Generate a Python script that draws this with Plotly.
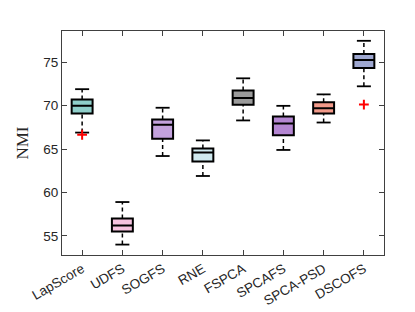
import plotly.graph_objects as go

methods = ["LapScore", "UDFS", "SOGFS", "RNE", "FSPCA", "SPCAFS", "SPCA-PSD", "DSCOFS"]
lower_whisker = [66.9, 54.0, 64.2, 61.9, 68.3, 64.9, 68.06, 72.23]
q1 = [69.1, 55.5, 66.2, 63.56, 70.1, 66.6, 69.1, 74.34]
median = [70.0, 56.2, 67.8, 64.6, 70.87, 67.95, 69.7, 75.26]
q3 = [70.7, 57.0, 68.4, 65.07, 71.75, 68.76, 70.4, 75.96]
upper_whisker = [71.9, 58.9, 69.76, 66.0, 73.15, 69.98, 71.3, 77.47]
outlier_method = ["LapScore", "DSCOFS"]
outlier_value = [66.65, 70.13]
colors = ["#8fcfca", "#f5c2de", "#c3a2dd", "#cfe9ef", "#9b9b9b", "#b486d2", "#f29a8a", "#9fa8d1"]

fig = go.Figure()
for i, m in enumerate(methods):
    fig.add_trace(go.Scatter(x=[m, m], y=[q3[i], upper_whisker[i]], mode="lines",
                             line=dict(color="black", width=1.5, dash="4px,3px"),
                             showlegend=False, hoverinfo="skip"))
    fig.add_trace(go.Scatter(x=[m, m], y=[lower_whisker[i], q1[i]], mode="lines",
                             line=dict(color="black", width=1.5, dash="4px,3px"),
                             showlegend=False, hoverinfo="skip"))
    fig.add_trace(go.Scatter(x=[m, m], y=[lower_whisker[i], upper_whisker[i]], mode="markers",
                             marker=dict(symbol="line-ew", size=10, line=dict(color="black", width=1.8)),
                             showlegend=False, hoverinfo="skip"))
    fig.add_trace(go.Box(x=[m], q1=[q1[i]], median=[median[i]], q3=[q3[i]],
                         lowerfence=[q1[i]], upperfence=[q3[i]],
                         fillcolor=colors[i], line=dict(color="black", width=2),
                         width=0.52, whiskerwidth=0, boxpoints=False,
                         showlegend=False))

fig.add_trace(go.Scatter(x=outlier_method, y=outlier_value, mode="markers",
                         marker=dict(symbol="cross-thin", size=7, line=dict(color="red", width=2)),
                         showlegend=False))

fig.update_layout(
    width=415, height=312,
    margin=dict(l=54, r=39, t=23, b=56),
    paper_bgcolor="white", plot_bgcolor="white",
    font=dict(family="Liberation Sans, Arial", size=13, color="#262626"),
    xaxis=dict(categoryorder="array", categoryarray=methods, range=[-0.5, 7.5],
               tickangle=-30, ticks="inside", ticklen=5, tickcolor="#404040",
               showline=True, linecolor="#404040", linewidth=1, mirror="ticks",
               showgrid=False, zeroline=False, tickfont=dict(size=13.5)),
    yaxis=dict(range=[52.8, 78.6], tickvals=[55, 60, 65, 70, 75],
               ticks="inside", ticklen=5, tickcolor="#404040",
               showline=True, linecolor="#404040", linewidth=1, mirror="ticks",
               showgrid=False, zeroline=False, tickfont=dict(size=13.5),
               title=dict(text="NMI", font=dict(family="Liberation Serif, Times New Roman", size=17),
                          standoff=10)),
)

fig.write_html("out.html")
